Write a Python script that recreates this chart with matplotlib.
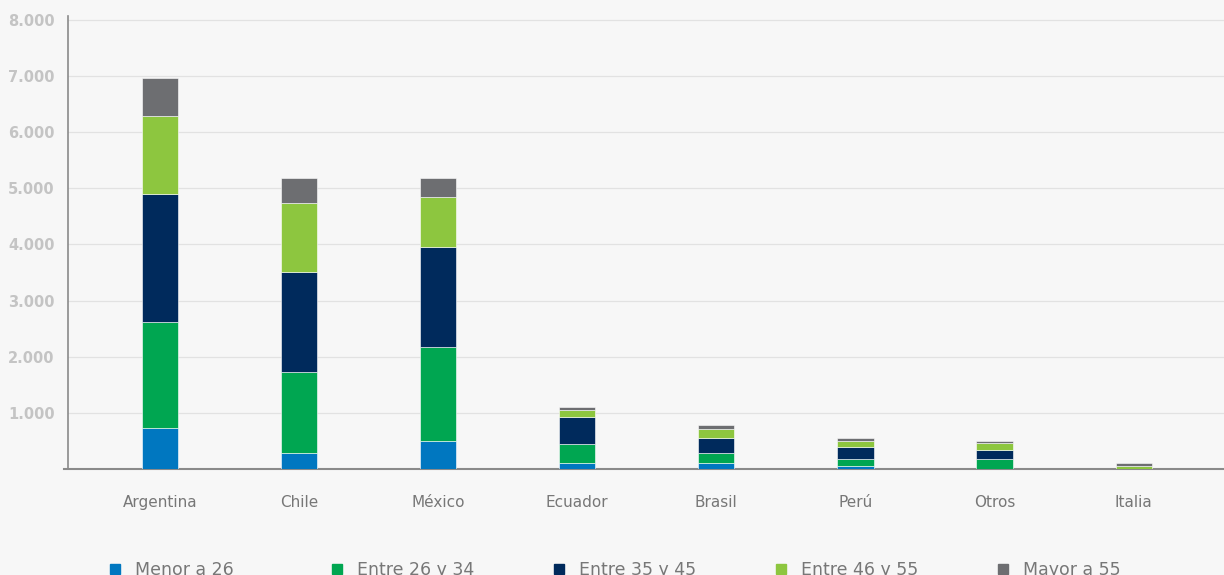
import matplotlib.pyplot as plt
from matplotlib.lines import Line2D
import numpy as np

# data
paises = ["Argentina", "Chile", "México", "Ecuador", "Brasil", "Perú", "Otros", "Italia"]
menor_26 = [730, 285, 498, 107, 110, 59, 0, 0]
entre_26_34 = [1885, 1441, 1673, 338, 175, 111, 170, 5]
entre_35_45 = [2278, 1779, 1779, 486, 272, 214, 160, 0]
entre_46_55 = [1388, 1228, 890, 119, 160, 119, 125, 55]
mayor_55 = [676, 445, 338, 59, 60, 53, 48, 52]

series = ["Menor a 26", "Entre 26 y 34", "Entre 35 y 45", "Entre 46 y 55", "Mayor a 55"]
valores = [menor_26, entre_26_34, entre_35_45, entre_46_55, mayor_55]
colores = ["#0077c0", "#00a651", "#002a5c", "#8dc63f", "#6d6e71"]

y_ticks = [1000, 2000, 3000, 4000, 5000, 6000, 7000, 8000]

bg = "#f7f7f7"
plt.rcParams["font.family"] = ["DejaVu Sans"]

fig = plt.figure(figsize=(12.24, 5.75), dpi=100, facecolor=bg)
ax = fig.add_axes([68 / 1224, 106 / 575, 1 - 68 / 1224, 453 / 575])
ax.set_facecolor(bg)

x = np.arange(len(paises))
bottom = np.zeros(len(paises))
for nombre, vals, col in zip(series, valores, colores):
    ax.bar(x, vals, width=0.26, bottom=bottom, color=col, edgecolor="white",
           linewidth=0.4, label=nombre, zorder=3)
    bottom += np.array(vals)

ax.set_xlim(-0.662, 7.65)
ax.set_ylim(0, 8070)
ax.set_yticks(y_ticks)
ax.set_yticklabels([f"{v:,}".replace(",", ".") for v in y_ticks],
                   color="#c4c4c4", fontsize=10.5, fontweight="bold")
ax.set_xticks(x)
ax.set_xticklabels(paises, color="#777777", fontsize=11)
ax.tick_params(axis="x", length=0, pad=19)
ax.tick_params(axis="y", length=0, pad=9.5)

ax.grid(axis="y", color="#e2e2e2", linewidth=0.9, zorder=0)
for s in ["top", "right"]:
    ax.spines[s].set_visible(False)
ax.spines["left"].set_color("#8a8a8a")
ax.spines["bottom"].set_color("#8a8a8a")
ax.spines["left"].set_linewidth(1.2)
ax.spines["bottom"].set_linewidth(1.5)
ax.spines["bottom"].set_bounds(-0.69, 7.65)

# legend, evenly spaced entries at the bottom
for i, (nombre, col) in enumerate(zip(series, colores)):
    mx = (115 + i * 222) / 1224
    fig.add_artist(Line2D([mx], [6 / 575], marker="s", markersize=6.5,
                          color=col, linestyle="none", transform=fig.transFigure))
    fig.text(mx + 20 / 1224, 5 / 575, nombre, color="#777777", fontsize=12.5,
             va="center", ha="left")

fig.savefig("out.png", dpi=100, facecolor=bg)
